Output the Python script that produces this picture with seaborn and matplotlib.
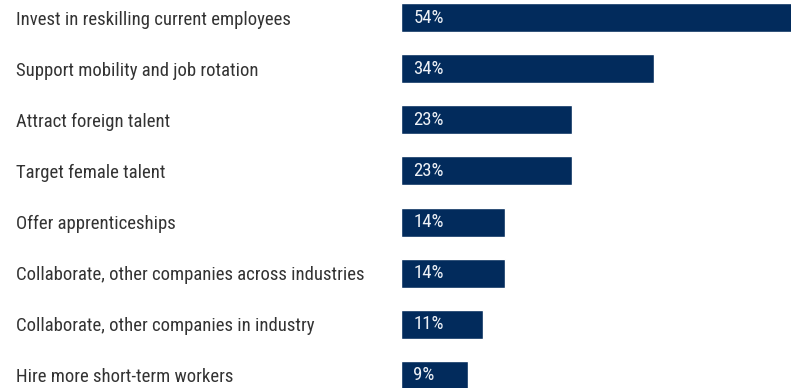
import pandas as pd
import seaborn as sns
import matplotlib.pyplot as plt
from matplotlib import font_manager

sns.set_style("white")

# condensed family if one is installed, else plain Roboto
names = {f.name for f in font_manager.fontManager.ttflist}
narrow = [n for n in ['Roboto Condensed', 'Liberation Sans Narrow',
                      'Open Sans Condensed', 'Noto Sans Condensed'] if n in names]
FONT = narrow[0] if narrow else 'Roboto'
SIZE = 13.5 if narrow else 12.5
plt.rcParams['font.family'] = [FONT, 'DejaVu Sans']

categories = ['Invest in reskilling current employees',
              'Support mobility and job rotation',
              'Attract foreign talent',
              'Target female talent',
              'Offer apprenticeships',
              'Collaborate, other companies across industries',
              'Collaborate, other companies in industry',
              'Hire more short-term workers']
shares = [54, 34, 23, 23, 14, 14, 11, 9]

BAR = '#022b5c'
TEXT = '#333333'

df = pd.DataFrame({'category': categories, 'share': shares})

fig = plt.figure(figsize=(7.91, 3.88), dpi=100)
ax = fig.add_axes([401 / 791, 0, 390 / 791, 1])

sns.barplot(data=df, x='share', y='category', color=BAR, width=0.567,
            saturation=1, ax=ax)

ax.set_xlim(0, 390 / 7.45)
ax.set_ylim(7 + 12.5 / 51.14, -17.5 / 51.14)
ax.set_xlabel('')
ax.set_ylabel('')
ax.set_xticks([])
sns.despine(ax=ax, left=True, bottom=True)

ax.tick_params(axis='y', length=0, pad=(401 - 16) * 0.72, labelsize=SIZE,
               labelcolor=TEXT)
for t in ax.get_yticklabels():
    t.set_ha('left')

for i, v in enumerate(shares):
    ax.annotate(f'{v}%', xy=(0, i), xytext=(9, 0), textcoords='offset points',
                va='center', ha='left', color='#eef1f6', fontsize=SIZE)

fig.savefig('out.png', dpi=100)
